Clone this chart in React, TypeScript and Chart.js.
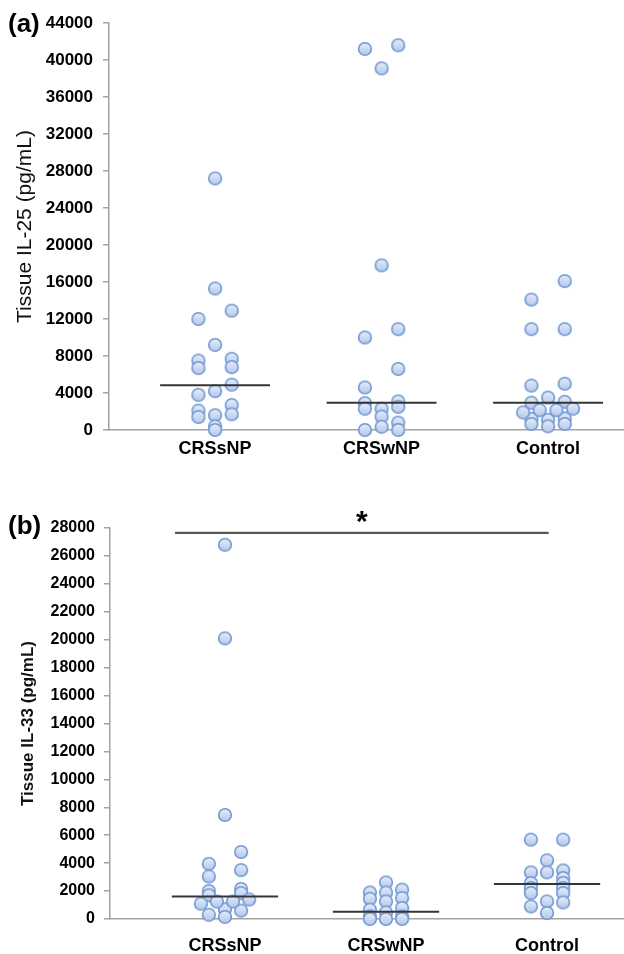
import React, { useEffect, useRef } from 'react';
import { Chart, registerables } from 'chart.js';

Chart.register(...registerables);
Chart.defaults.font.family = '"Liberation Sans", Arial, sans-serif';

const CATEGORIES = ['CRSsNP', 'CRSwNP', 'Control'];

// ---------- Panel (a): Tissue IL-25 ----------
const A_Y_MAX = 44000;
const A_Y_STEP = 4000;
const A_CRSSNP_VALUES = [27200, 15300, 9200, 4200, 1600, 400, 0, 12000, 7500, 6700, 3800, 2100, 1400, 12900, 7700, 6800, 4900, 2700, 1700];
const A_CRSSNP_COLS = [0, 0, 0, 0, 0, 0, 0, -1, -1, -1, -1, -1, -1, 1, 1, 1, 1, 1, 1];
const A_CRSWNP_VALUES = [41200, 10000, 4600, 2900, 2300, 0, 39100, 17800, 2300, 1450, 350, 41600, 10900, 6600, 3100, 2500, 800, 0];
const A_CRSWNP_COLS = [-1, -1, -1, -1, -1, -1, 0, 0, 0, 0, 0, 1, 1, 1, 1, 1, 1, 1];
const A_CONTROL_VALUES = [14100, 10900, 4800, 2950, 1200, 650, 3500, 1100, 400, 16100, 10900, 5000, 3050, 1250, 650, 1900, 2150, 2150, 2300];
const A_CONTROL_COLS = [-1, -1, -1, -1, -1, -1, 0, 0, 0, 1, 1, 1, 1, 1, 1, -1.5, -0.5, 0.5, 1.5];
const A_MEDIANS = [4850, 2950, 2950];

// ---------- Panel (b): Tissue IL-33 ----------
const B_Y_MAX = 28000;
const B_Y_STEP = 2000;
const B_CRSSNP_VALUES = [26800, 20100, 7450, 700, 150, 3950, 3050, 2000, 1700, 300, 4800, 3500, 2150, 1850, 600, 1100, 1250, 1250, 1400];
const B_CRSSNP_COLS = [0, 0, 0, 0, 0, -1, -1, -1, -1, -1, 1, 1, 1, 1, 1, -1.5, -0.5, 0.5, 1.5];
const B_CRSWNP_VALUES = [1900, 1450, 670, 190, 0, 2620, 1900, 1260, 470, 0, 2100, 1500, 790, 190, 0];
const B_CRSWNP_COLS = [-1, -1, -1, -1, -1, 0, 0, 0, 0, 0, 1, 1, 1, 1, 1];
const B_CONTROL_VALUES = [5680, 3340, 2580, 2220, 1860, 900, 4200, 3340, 1260, 430, 5680, 3480, 2940, 2580, 2220, 1860, 1190];
const B_CONTROL_COLS = [-1, -1, -1, -1, -1, -1, 0, 0, 0, 0, 1, 1, 1, 1, 1, 1, 1];
const B_MEDIANS = [1620, 520, 2510];
const B_SIG_FROM = 0.69;
const B_SIG_TO = 3.01;
const B_SIG_VALUE = 27650;
const B_SIG_TEXT = '*';
const B_SIG_TEXT_X = 1.85;
const B_SIG_TEXT_Y = 28800;

const COL_STEP = 0.1;
const MEDIAN_HALF = 0.33;

function makeDot(): HTMLCanvasElement {
  const c = document.createElement('canvas');
  c.width = 16;
  c.height = 16;
  const ctx = c.getContext('2d')!;
  const g = ctx.createLinearGradient(0, 1, 0, 15);
  g.addColorStop(0, '#e8effa');
  g.addColorStop(1, '#b1c6ea');
  ctx.beginPath();
  ctx.arc(8, 8, 6.3, 0, Math.PI * 2);
  ctx.fillStyle = g;
  ctx.fill();
  ctx.lineWidth = 1.6;
  ctx.strokeStyle = '#7097d3';
  ctx.stroke();
  return c;
}

const extrasPlugin = {
  id: 'extras',
  afterDraw(chart: any, _args: any, opts: any) {
    const ctx = chart.ctx;
    ctx.save();
    if (opts.panel) {
      ctx.font = 'bold 26px "Liberation Sans", Arial, sans-serif';
      ctx.fillStyle = '#000';
      ctx.textAlign = 'left';
      ctx.textBaseline = 'middle';
      ctx.fillText(opts.panel, opts.panelX, opts.panelY);
    }
    if (opts.star) {
      const x = chart.scales.x.getPixelForValue(opts.star.x);
      const y = chart.scales.y.getPixelForValue(opts.star.y);
      ctx.font = 'bold 30px "Liberation Sans", Arial, sans-serif';
      ctx.fillStyle = '#000';
      ctx.textAlign = 'center';
      ctx.textBaseline = 'alphabetic';
      const m = ctx.measureText(opts.star.text);
      ctx.fillText(opts.star.text, x, y + (m.actualBoundingBoxAscent - m.actualBoundingBoxDescent) / 2);
    }
    ctx.restore();
  },
};

type Spec = {
  groups: { values: number[]; cols: number[] }[];
  medians: number[];
  yMax: number;
  yStep: number;
  xMin: number;
  xMax: number;
  yTitle: string;
  yTitleFont: any;
  yTitlePad: number;
  yTickFont: any;
  yTickPad: number;
  padTop: number;
  yAxisWidth: number;
  xAxisHeight: number;
  xLabelPad: number;
  panel: string;
  panelY: number;
  sig?: { from: number; to: number; y: number };
  star?: { x: number; y: number; text: string };
};

function buildConfig(s: Spec, dot: HTMLCanvasElement): any {
  const datasets: any[] = [];
  s.medians.forEach((m, i) => {
    datasets.push({
      type: 'scatter',
      data: [
        { x: i + 1 - MEDIAN_HALF, y: m },
        { x: i + 1 + MEDIAN_HALF, y: m },
      ],
      showLine: true,
      pointRadius: 0,
      borderColor: '#353535',
      borderWidth: 2,
      order: 0,
    });
  });
  if (s.sig) {
    datasets.push({
      type: 'scatter',
      data: [
        { x: s.sig.from, y: s.sig.y },
        { x: s.sig.to, y: s.sig.y },
      ],
      showLine: true,
      pointRadius: 0,
      borderColor: '#555555',
      borderWidth: 2.2,
      order: 0,
    });
  }
  s.groups.forEach((g, i) => {
    datasets.push({
      type: 'scatter',
      data: g.values.map((v, j) => ({ x: i + 1 + g.cols[j] * COL_STEP, y: v })),
      pointStyle: dot,
      pointRadius: 7,
      clip: false,
      order: 1,
    });
  });

  return {
    type: 'scatter',
    data: { datasets },
    options: {
      animation: false,
      responsive: false,
      devicePixelRatio: 1,
      events: [],
      layout: { autoPadding: false, padding: { top: s.padTop, left: 0, right: 0, bottom: 0 } },
      plugins: {
        legend: { display: false },
        tooltip: { enabled: false },
        extras: { panel: s.panel, panelX: 8, panelY: s.panelY, star: s.star },
      },
      scales: {
        x: {
          type: 'linear',
          min: s.xMin,
          max: s.xMax,
          grid: { display: false, drawTicks: false },
          border: { display: true, color: '#a3a3a3', width: 1.5 },
          afterBuildTicks: (axis: any) => {
            axis.ticks = CATEGORIES.map((_, i) => ({ value: i + 1 }));
          },
          afterFit: (axis: any) => {
            axis.height = s.xAxisHeight;
            axis.paddingLeft = 0;
            axis.paddingRight = 0;
          },
          ticks: {
            autoSkip: false,
            maxRotation: 0,
            padding: s.xLabelPad,
            color: '#000',
            font: { size: 18, weight: 'bold' },
            callback: (v: number) => CATEGORIES[Math.round(v) - 1] ?? '',
          },
        },
        y: {
          type: 'linear',
          min: 0,
          max: s.yMax,
          grid: { drawOnChartArea: false, drawTicks: true, tickLength: 6, color: '#a3a3a3', lineWidth: 1.5 },
          border: { display: true, color: '#a3a3a3', width: 1.5 },
          afterFit: (axis: any) => {
            axis.width = s.yAxisWidth;
          },
          ticks: {
            stepSize: s.yStep,
            padding: s.yTickPad,
            color: '#000',
            font: s.yTickFont,
            callback: (v: number) => String(v),
          },
          title: {
            display: true,
            text: s.yTitle,
            color: '#111',
            font: s.yTitleFont,
            padding: { top: s.yTitlePad, bottom: 0 },
          },
        },
      },
    },
    plugins: [extrasPlugin],
  };
}

export default function App() {
  const refA = useRef<HTMLCanvasElement>(null);
  const refB = useRef<HTMLCanvasElement>(null);

  useEffect(() => {
    const dot = makeDot();
    const specA: Spec = {
      groups: [
        { values: A_CRSSNP_VALUES, cols: A_CRSSNP_COLS },
        { values: A_CRSWNP_VALUES, cols: A_CRSWNP_COLS },
        { values: A_CONTROL_VALUES, cols: A_CONTROL_COLS },
      ],
      medians: A_MEDIANS,
      yMax: A_Y_MAX,
      yStep: A_Y_STEP,
      xMin: 0.363,
      xMax: 3.456,
      yTitle: 'Tissue IL-25 (pg/mL)',
      yTitleFont: { size: 21, weight: 'normal' },
      yTitlePad: 13,
      yTickFont: { size: 17, weight: 'bold' },
      yTickPad: 10,
      padTop: 23,
      yAxisWidth: 109,
      xAxisHeight: 40,
      xLabelPad: 8,
      panel: '(a)',
      panelY: 25,
    };
    const specB: Spec = {
      groups: [
        { values: B_CRSSNP_VALUES, cols: B_CRSSNP_COLS },
        { values: B_CRSWNP_VALUES, cols: B_CRSWNP_COLS },
        { values: B_CONTROL_VALUES, cols: B_CONTROL_COLS },
      ],
      medians: B_MEDIANS,
      yMax: B_Y_MAX,
      yStep: B_Y_STEP,
      xMin: 0.286,
      xMax: 3.478,
      yTitle: 'Tissue IL-33 (pg/mL)',
      yTitleFont: { size: 17, weight: 'bold' },
      yTitlePad: 18,
      yTickFont: { size: 16, weight: 'bold' },
      yTickPad: 9,
      padTop: 58,
      yAxisWidth: 110,
      xAxisHeight: 35,
      xLabelPad: 16,
      panel: '(b)',
      panelY: 57,
      sig: { from: B_SIG_FROM, to: B_SIG_TO, y: B_SIG_VALUE },
      star: { x: B_SIG_TEXT_X, y: B_SIG_TEXT_Y, text: B_SIG_TEXT },
    };
    const a = new Chart(refA.current!, buildConfig(specA, dot));
    const b = new Chart(refB.current!, buildConfig(specB, dot));
    return () => {
      a.destroy();
      b.destroy();
    };
  }, []);

  return (
    <div style={{ position: 'absolute', left: 0, top: 0, width: 624, height: 954, background: '#fff' }}>
      <canvas ref={refA} width={624} height={470} style={{ position: 'absolute', left: 0, top: 0, width: 624, height: 470 }} />
      <canvas ref={refB} width={624} height={484} style={{ position: 'absolute', left: 0, top: 470, width: 624, height: 484 }} />
    </div>
  );
}
